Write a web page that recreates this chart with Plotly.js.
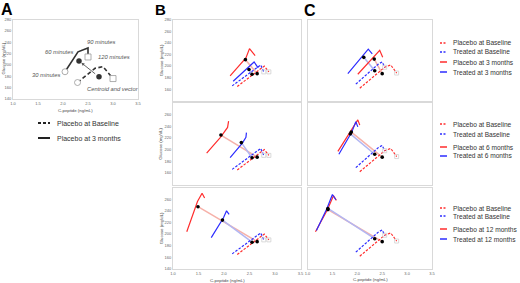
<!DOCTYPE html>
<html><head><meta charset="utf-8">
<script src="https://cdn.plot.ly/plotly-3.0.1.min.js"></script>
<style>html,body{margin:0;padding:0;background:#fff}#chart{width:520px;height:283px}</style>
</head><body><div id="chart"></div>
<script>
// ---------- Panel A (schematic) ----------
const aTimeLabels = ['30 minutes', '60 minutes', '90 minutes', '120 minutes'];
const aBaselineX = [2.29, 2.64, 2.80, 3.00];
const aBaselineY = [169, 194, 197, 176];
const aFollowX = [2.04, 2.30, 2.50, 2.50];
const aFollowY = [188, 223, 230, 214];
const aCentroidX = [2.72, 2.32];   // baseline, 3 months
const aCentroidY = [179, 207];
const aLegend = ['Placebo at Baseline', 'Placebo at 3 months'];

// ---------- Panel B ----------
const bPlaceboBaseX = [2.26, 2.67, 2.79, 2.88];
const bPlaceboBaseY = [165, 193, 200, 190];
const bTreatedBaseX = [2.16, 2.61, 2.72, 2.78];
const bTreatedBaseY = [166, 195, 202, 190];
const bPlacebo3mX = [2.12, 2.43, 2.50, 2.61];
const bPlacebo3mY = [183, 214, 230, 218];
const bTreated3mX = [2.18, 2.51, 2.59, 2.67];
const bTreated3mY = [174, 200, 207, 197];
const bPlacebo6mX = [1.66, 1.93, 2.07, 2.09];
const bPlacebo6mY = [194, 221, 238, 249];
const bTreated6mX = [2.12, 2.36, 2.43, 2.44];
const bTreated6mY = [186, 211, 221, 229];
const bPlacebo12mX = [1.27, 1.48, 1.57, 1.62];
const bPlacebo12mY = [204, 256, 270, 262];
const bTreated12mX = [1.75, 1.99, 2.05, 2.10];
const bTreated12mY = [194, 228, 240, 234];
// centroids: baseline, 3m, 6m, 12m
const bCentroidPlaceboX = [2.65, 2.42, 1.94, 1.49];
const bCentroidPlaceboY = [187, 211, 225, 247];
const bCentroidTreatedX = [2.55, 2.49, 2.34, 1.97];
const bCentroidTreatedY = [186, 194, 212, 224];

// ---------- Panel C ----------
const cPlaceboBaseX = [2.05, 2.55, 2.67, 2.79];
const cPlaceboBaseY = [162, 198, 202, 188];
const cTreatedBaseX = [1.97, 2.43, 2.50, 2.55];
const cTreatedBaseY = [169, 204, 207, 198];
const cPlacebo3mX = [2.01, 2.39, 2.45, 2.51];
const cPlacebo3mY = [186, 221, 227, 215];
const cTreated3mX = [1.81, 2.17, 2.22, 2.30];
const cTreated3mY = [187, 225, 229, 221];
const cPlacebo6mX = [1.61, 1.87, 2.01, 2.05];
const cPlacebo6mY = [197, 231, 251, 242];
const cTreated6mX = [1.63, 1.89, 1.97, 2.01];
const cTreated6mY = [192, 230, 248, 239];
const cPlacebo12mX = [1.16, 1.40, 1.52, 1.58];
const cPlacebo12mY = [204, 242, 266, 258];
const cTreated12mX = [1.18, 1.39, 1.50, 1.57];
const cTreated12mY = [206, 244, 268, 259];
const cCentroidPlaceboX = [2.50, 2.34, 1.88, 1.41];
const cCentroidPlaceboY = [187, 212, 230, 242];
const cCentroidTreatedX = [2.35, 2.13, 1.86, 1.41];
const cCentroidTreatedY = [192, 215, 227, 244];

const xTickVals = [1.0, 1.5, 2.0, 2.5, 3.0, 3.5];
const xTickText = ['1.0', '1.5', '2.0', '2.5', '3.0', '3.5'];
const yTickValsA = [140, 160, 180, 200, 220, 240, 260, 280];
const yTickValsRows = [[160, 180, 200, 220, 240, 260, 280], [160, 180, 200, 220, 240, 260], [140, 160, 180, 200, 220, 240, 260]];
const periods = ['3 months', '6 months', '12 months'];

// ---------- build ----------
const W = 520, H = 283;
const px = v => v / W, py = v => (H - v) / H;
const RED = '#ff2d2d', BLUE = '#2d2dff', LRED = '#f6b1a9', LBLUE = '#b2b6f2';
const FONT = 'Liberation Sans, Arial, sans-serif';
const traces = [];

function line(x, y, xa, ya, color, dash, width) {
  traces.push({x, y, xaxis: xa, yaxis: ya, mode: 'lines', type: 'scatter',
    line: {color, dash, width}, hoverinfo: 'skip', showlegend: false});
}
function pts(x, y, xa, ya, marker) {
  traces.push({x, y, xaxis: xa, yaxis: ya, mode: 'markers', type: 'scatter',
    marker, hoverinfo: 'skip', showlegend: false});
}

// Panel A
line(aBaselineX, aBaselineY, 'x', 'y', '#333', '4px,2.5px', 1.6);
line(aFollowX, aFollowY, 'x', 'y', '#333', 'solid', 1.6);
pts([aBaselineX[0], aFollowX[0]], [aBaselineY[0], aFollowY[0]], 'x', 'y',
  {symbol: 'circle', size: 6, color: '#fff', line: {color: '#999', width: 0.8}});
pts([aBaselineX[3], aFollowX[3]], [aBaselineY[3], aFollowY[3]], 'x', 'y',
  {symbol: 'square', size: 6, color: '#fff', line: {color: '#999', width: 0.8}});
pts(aCentroidX, aCentroidY, 'x', 'y', {symbol: 'circle', size: 5.5, color: '#333'});

// Panels B & C
const cols = [
  {base: [bPlaceboBaseX, bPlaceboBaseY, bTreatedBaseX, bTreatedBaseY],
   fol: [[bPlacebo3mX, bPlacebo3mY, bTreated3mX, bTreated3mY],
         [bPlacebo6mX, bPlacebo6mY, bTreated6mX, bTreated6mY],
         [bPlacebo12mX, bPlacebo12mY, bTreated12mX, bTreated12mY]],
   cen: [bCentroidPlaceboX, bCentroidPlaceboY, bCentroidTreatedX, bCentroidTreatedY], axOff: 2},
  {base: [cPlaceboBaseX, cPlaceboBaseY, cTreatedBaseX, cTreatedBaseY],
   fol: [[cPlacebo3mX, cPlacebo3mY, cTreated3mX, cTreated3mY],
         [cPlacebo6mX, cPlacebo6mY, cTreated6mX, cTreated6mY],
         [cPlacebo12mX, cPlacebo12mY, cTreated12mX, cTreated12mY]],
   cen: [cCentroidPlaceboX, cCentroidPlaceboY, cCentroidTreatedX, cCentroidTreatedY], axOff: 5}
];
cols.forEach(col => {
  for (let r = 0; r < 3; r++) {
    const n = col.axOff + r, xa = 'x' + n, ya = 'y' + n;
    const [cpx, cpy, ctx, cty] = col.cen;
    line([cpx[0], cpx[r + 1]], [cpy[0], cpy[r + 1]], xa, ya, LRED, 'solid', 1.5);
    line([ctx[0], ctx[r + 1]], [cty[0], cty[r + 1]], xa, ya, LBLUE, 'solid', 1.5);
    const [bpx, bpy, btx, bty] = col.base;
    const [fpx, fpy, ftx, fty] = col.fol[r];
    line(bpx, bpy, xa, ya, RED, '2.5px,1.5px', 1.2);
    line(btx, bty, xa, ya, BLUE, '2.5px,1.5px', 1.2);
    line(fpx, fpy, xa, ya, RED, 'solid', 1.2);
    line(ftx, fty, xa, ya, BLUE, 'solid', 1.2);
    pts([bpx[3], btx[3]], [bpy[3], bty[3]], xa, ya,
      {symbol: 'square-open', size: 4, color: '#d0d0d0', line: {width: 0.8}});
    pts([cpx[0], cpx[r + 1], ctx[0], ctx[r + 1]], [cpy[0], cpy[r + 1], cty[0], cty[r + 1]], xa, ya,
      {symbol: 'circle', size: 3.6, color: '#000'});
  }
});

// axes
const layout = {width: W, height: H, margin: {l: 0, r: 0, t: 0, b: 0},
  paper_bgcolor: '#fff', plot_bgcolor: '#fff', showlegend: false,
  font: {family: FONT}, annotations: [], shapes: []};
const tf = {size: 4, color: '#666', family: FONT};
function xAxis(dom, anchor, show) {
  return {domain: dom, anchor, range: [1, 3.5], showline: true, mirror: true, linecolor: '#d9d9d9',
    linewidth: 1, showgrid: false, zeroline: false, ticks: '', tickvals: xTickVals, ticktext: xTickText,
    showticklabels: show, tickfont: tf, fixedrange: true};
}
function yAxis(dom, anchor, vals, show) {
  return {domain: dom, anchor, range: [140, 280], showline: true, mirror: true, linecolor: '#d9d9d9',
    linewidth: 1, showgrid: false, zeroline: false, ticks: '', tickvals: vals,
    showticklabels: show, tickfont: tf, fixedrange: true};
}
layout.xaxis = xAxis([px(13), px(138)], 'y', true);
layout.yaxis = yAxis([py(99), py(19.5)], 'x', yTickValsA, true);
const rowsPy = [[19.5, 101], [103, 184.5], [187.5, 269]];
for (let r = 0; r < 3; r++) {
  const yd = [py(rowsPy[r][1]), py(rowsPy[r][0])];
  layout['xaxis' + (2 + r)] = xAxis([px(173), px(300.5)], 'y' + (2 + r), r === 2);
  layout['yaxis' + (2 + r)] = yAxis(yd, 'x' + (2 + r), yTickValsRows[r], true);
  layout['xaxis' + (5 + r)] = xAxis([px(307.5), px(432)], 'y' + (5 + r), r === 2);
  layout['yaxis' + (5 + r)] = yAxis(yd, 'x' + (5 + r), yTickValsRows[r], false);
}

const ann = layout.annotations, shp = layout.shapes;
function txt(text, x, y, size, opts) {
  ann.push(Object.assign({text, x: px(x), y: py(y), xref: 'paper', yref: 'paper', showarrow: false,
    xanchor: 'center', yanchor: 'middle', font: {size, color: '#444', family: FONT}}, opts || {}));
}
// panel letters
txt('<b>A</b>', 7, 9, 16, {font: {size: 16, color: '#000', family: FONT}});
txt('<b>B</b>', 160, 9, 15, {font: {size: 15, color: '#000', family: FONT}});
txt('<b>C</b>', 310, 10, 16, {font: {size: 16, color: '#000', family: FONT}});
// axis titles
txt('C-peptide (ng/mL)', 75, 110, 4.3);
txt('Glucose (mg/dL)', 2.5, 59, 4.3, {textangle: -90});
txt('C-peptide (ng/mL)', 227, 280, 4.3);
txt('C-peptide (ng/mL)', 370, 279, 4.3);
rowsPy.forEach(rp => txt('Glucose (mg/dL)', 161, (rp[0] + rp[1]) / 2, 4.3, {textangle: -90}));
// panel A time labels
const aLabelPos = [[45.5, 75], [59, 52], [101, 42], [113.5, 57]];
aTimeLabels.forEach((t, i) => txt('<i>' + t + '</i>', aLabelPos[i][0], aLabelPos[i][1], 5.8, {font: {size: 5.8, color: '#555', family: FONT}}));
txt('<i>Centroid and vector</i>', 112.5, 89, 5.8, {font: {size: 5.8, color: '#555', family: FONT}});
// panel A centroid vector arrow
ann.push({x: aCentroidX[1], y: aCentroidY[1], ax: aCentroidX[0], ay: aCentroidY[0], xref: 'x', yref: 'y',
  axref: 'x', ayref: 'y', showarrow: true, arrowhead: 2, arrowsize: 0.7, arrowwidth: 0.9,
  arrowcolor: '#555', standoff: 3, startstandoff: 3, text: ''});
// panel A legend
[[aLegend[0], 123, '3px,2px'], [aLegend[1], 138, 'solid']].forEach(([t, y, d]) => {
  shp.push({type: 'line', xref: 'paper', yref: 'paper', x0: px(38), x1: px(50), y0: py(y), y1: py(y),
    line: {color: '#222', width: 2, dash: d}});
  txt(t, 55, y, 7, {xanchor: 'left', font: {size: 7, color: '#333', family: FONT}});
});
// B/C legends
const legY = [[43, 52, 62, 72], [124, 134, 147, 156], [208, 216, 229, 239]];
for (let r = 0; r < 3; r++) {
  const labels = ['Placebo at Baseline', 'Treated at Baseline', 'Placebo at ' + periods[r], 'Treated at ' + periods[r]];
  const sty = [[RED, '2px,1.5px'], [BLUE, '2px,1.5px'], [RED, 'solid'], [BLUE, 'solid']];
  labels.forEach((t, i) => {
    const y = legY[r][i];
    shp.push({type: 'line', xref: 'paper', yref: 'paper', x0: px(440), x1: px(447), y0: py(y), y1: py(y),
      line: {color: sty[i][0], width: 1.5, dash: sty[i][1]}});
    txt(t, 451, y, 6.6, {xanchor: 'left', font: {size: 6.6, color: '#333', family: FONT}});
  });
}

Plotly.newPlot('chart', traces, layout, {staticPlot: true, displayModeBar: false});
</script>
</body></html>
